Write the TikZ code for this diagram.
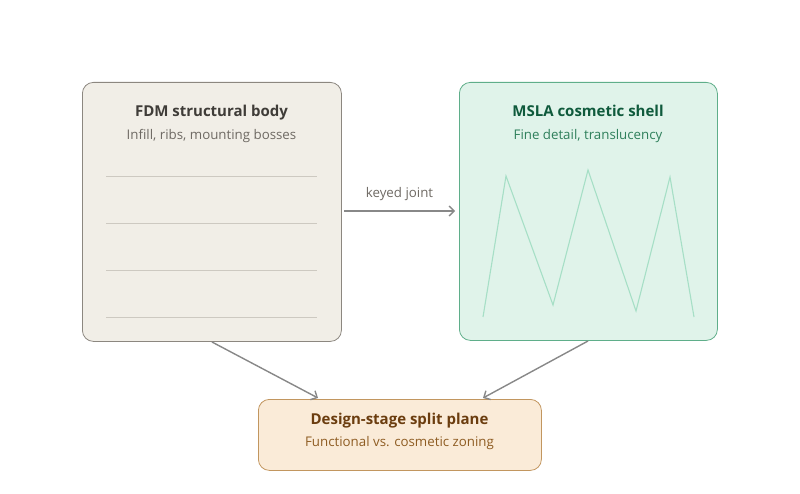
\documentclass[tikz,border=0pt]{standalone}
\usepackage{fontspec}
\setmainfont{Open Sans}
\usetikzlibrary{arrows.meta}
\definecolor{lfill}{HTML}{F1EEE7}
\definecolor{ldraw}{HTML}{8C8780}
\definecolor{lline}{HTML}{CDC9C1}
\definecolor{ltitle}{HTML}{3F3C38}
\definecolor{lsub}{HTML}{6E6963}
\definecolor{rfill}{HTML}{E0F3EA}
\definecolor{rdraw}{HTML}{5FAE8A}
\definecolor{rzig}{HTML}{A6DFC6}
\definecolor{rtitle}{HTML}{0F5A3C}
\definecolor{rsub}{HTML}{2E7F5B}
\definecolor{bfill}{HTML}{FAEBD8}
\definecolor{bdraw}{HTML}{C2965F}
\definecolor{btitle}{HTML}{6B3D0F}
\definecolor{bsub}{HTML}{8E5C22}
\definecolor{arr}{HTML}{888888}
\tikzset{
  box/.style={rounded corners=11pt, line width=0.8pt, inner sep=0pt, anchor=north west},
  ttl/.style={font=\fontsize{15}{18}\selectfont\bfseries, anchor=base},
  sub/.style={font=\fontsize{13.3}{16}\selectfont, anchor=base},
  conn/.style={draw=arr, line width=1.4pt, -{Straight Barb[length=5pt,width=10pt,line width=1.4pt]}}
}
\begin{document}
\begin{tikzpicture}[x=1pt,y=-1pt]
\useasboundingbox (0,0) rectangle (800,494);
% boxes
\node[box, fill=lfill, draw=ldraw, minimum width=259pt, minimum height=259pt] (L) at (82,82) {};
\node[box, fill=rfill, draw=rdraw, minimum width=258pt, minimum height=258pt] (R) at (459,82) {};
\node[box, fill=bfill, draw=bdraw, minimum width=283pt, minimum height=71pt] (B) at (258,399) {};
% left content
\node[ttl, text=ltitle] (Lt) at (211.5,117) {FDM structural body};
\node[sub, text=lsub] (Ls) at (211.5,140) {Infill, ribs, mounting bosses};
\foreach \yy in {176,223,270,317} \draw[lline, line width=0.8pt] (106,\yy) -- (317,\yy);
% right content
\node[ttl, text=rtitle] (Rt) at (588,117) {MSLA cosmetic shell};
\node[sub, text=rsub] (Rs) at (588,140) {Fine detail, translucency};
\draw[rzig, line width=1.1pt, line join=miter] (483,317) -- (506,176) -- (553,305) -- (588,170) -- (636,311) -- (670,177) -- (694,317);
% bottom content
\node[ttl, text=btitle] (Bt) at (399.5,424) {Design-stage split plane};
\node[sub, text=bsub] (Bs) at (399.5,446) {Functional vs. cosmetic zoning};
% connectors
\coordinate (j1) at (344,211);
\coordinate (j2) at (455,211);
\draw[conn] (j1) -- node[above=6pt, font=\fontsize{13.3}{16}\selectfont, text=lsub] (K) {keyed joint} (j2);
\coordinate (a1) at (212,342);
\coordinate (a2) at (318,398);
\coordinate (b1) at (588,341);
\coordinate (b2) at (483,398);
\draw[conn] (a1) -- (a2);
\draw[conn] (b1) -- (b2);
\end{tikzpicture}
\end{document}
